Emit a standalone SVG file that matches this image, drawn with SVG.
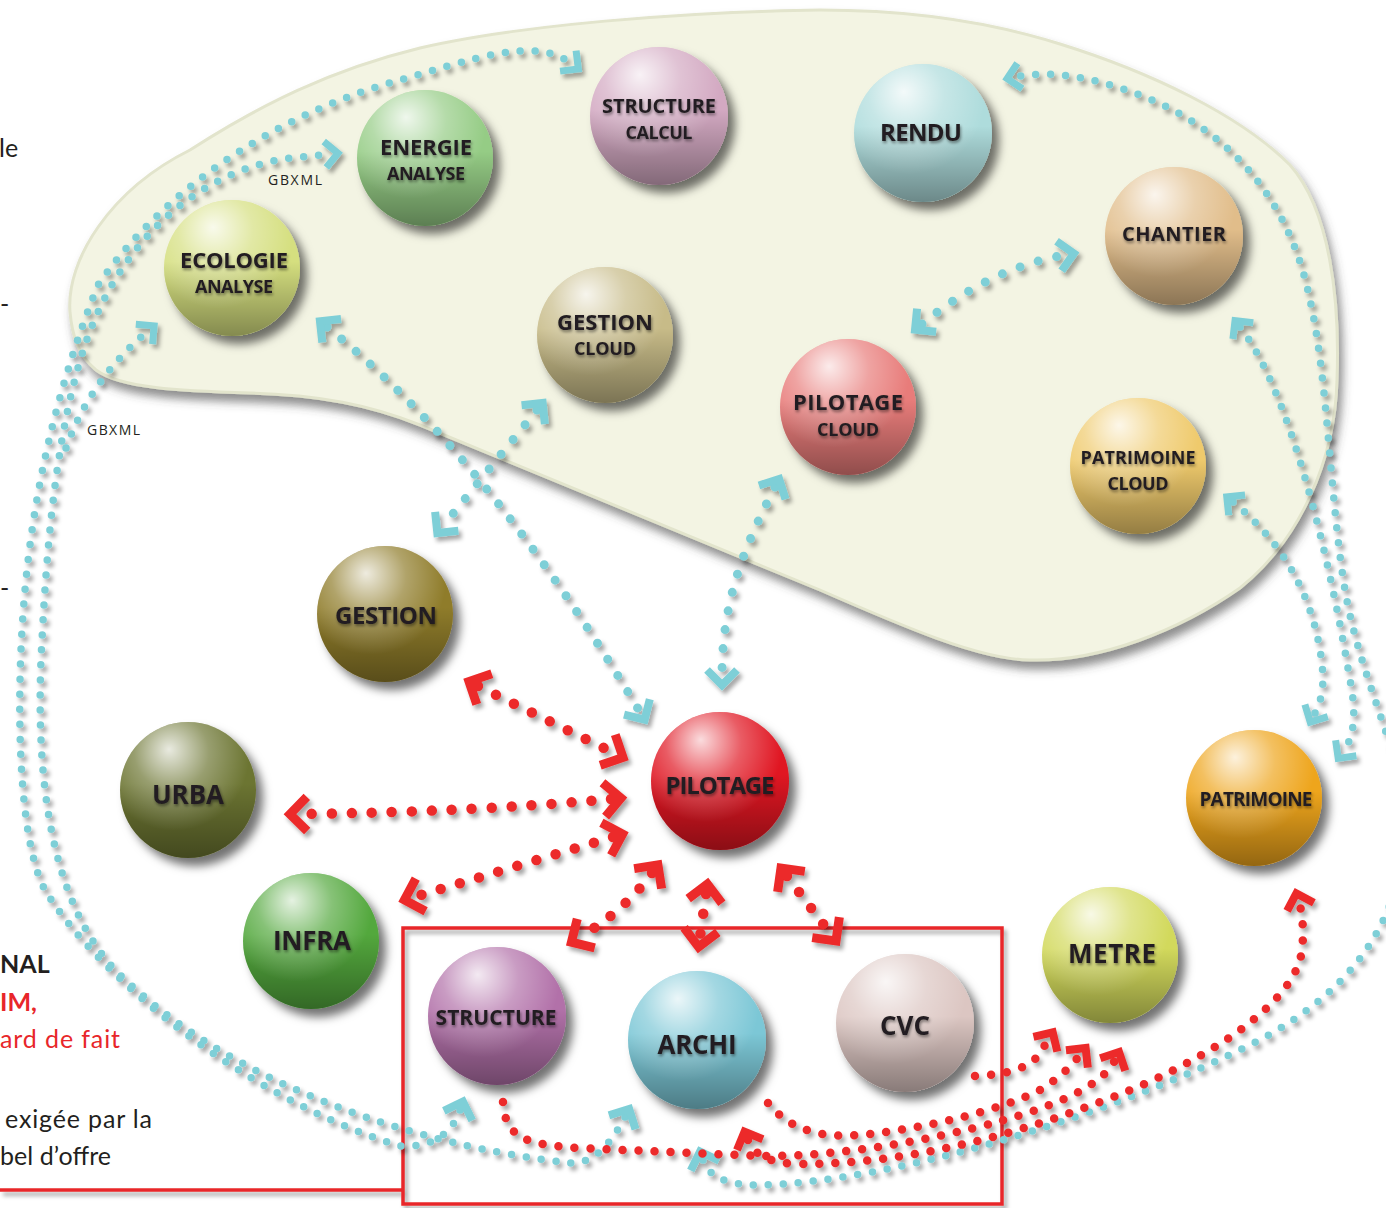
<svg xmlns="http://www.w3.org/2000/svg" width="1386" height="1208" viewBox="0 0 1386 1208">
<defs>
<style>
.lbl{font-family:"Open Sans","Liberation Sans",sans-serif;font-weight:700;fill:#231f20;text-anchor:middle}
.side{font-family:"Lato","Open Sans",sans-serif;font-size:25px;fill:#231f20}
.red{fill:#e8262a}
.bold{font-weight:700}
.gb{font-family:"Open Sans","Liberation Sans",sans-serif;font-size:14px;fill:#231f20}
.cb{fill:none;stroke:#7ecfd7;stroke-width:9;stroke-dasharray:0 19;stroke-linecap:round}
.cs{fill:none;stroke:#7ecfd7;stroke-width:7.5;stroke-dasharray:0 15;stroke-linecap:round}
.rb{fill:none;stroke:#ec2a2a;stroke-width:10.5;stroke-dasharray:0 20;stroke-linecap:round}
.rs{fill:none;stroke:#ec2a2a;stroke-width:8.5;stroke-dasharray:0 16;stroke-linecap:round}
.sph{filter:url(#ssh)}
</style>
<filter id="ssh" x="-30%" y="-30%" width="170%" height="170%"><feDropShadow dx="7" dy="8" stdDeviation="5" flood-color="#000" flood-opacity="0.55"/></filter>
<filter id="bsh" x="-10%" y="-10%" width="120%" height="130%"><feDropShadow dx="4" dy="8" stdDeviation="5" flood-color="#444" flood-opacity="0.6"/></filter>
<filter id="dsh" x="-5%" y="-5%" width="110%" height="110%"><feDropShadow dx="3" dy="4" stdDeviation="2" flood-color="#000" flood-opacity="0.35"/></filter>
<filter id="tsh" x="-20%" y="-40%" width="140%" height="180%"><feDropShadow dx="1" dy="2" stdDeviation="1.5" flood-color="#000" flood-opacity="0.45"/></filter>
<linearGradient id="shade" x1="0" y1="0" x2="0" y2="1"><stop offset="0" stop-color="#000" stop-opacity="0"/><stop offset="0.45" stop-color="#000" stop-opacity="0"/><stop offset="1" stop-color="#000" stop-opacity="0.38"/></linearGradient>
<radialGradient id="hl" cx="0.4" cy="0.25" r="0.55" fx="0.36" fy="0.2"><stop offset="0" stop-color="#fff" stop-opacity="0.85"/><stop offset="0.5" stop-color="#fff" stop-opacity="0.3"/><stop offset="1" stop-color="#fff" stop-opacity="0"/></radialGradient>
<marker id="mcb" markerUnits="userSpaceOnUse" markerWidth="60" markerHeight="60" viewBox="-30 -30 60 60" refX="0" refY="0" orient="auto-start-reverse"><path d="M-6,-15 L9,0 L-6,15" fill="none" stroke="#7ecfd7" stroke-width="8"/></marker>
<marker id="mcs" markerUnits="userSpaceOnUse" markerWidth="60" markerHeight="60" viewBox="-30 -30 60 60" refX="0" refY="0" orient="auto-start-reverse"><path d="M-5,-13 L8,0 L-5,13" fill="none" stroke="#7ecfd7" stroke-width="7"/></marker>
<marker id="mrb" markerUnits="userSpaceOnUse" markerWidth="60" markerHeight="60" viewBox="-30 -30 60 60" refX="0" refY="0" orient="auto-start-reverse"><path d="M-7,-17 L10,0 L-7,17" fill="none" stroke="#ec2a2a" stroke-width="9"/></marker>
<marker id="mrs" markerUnits="userSpaceOnUse" markerWidth="60" markerHeight="60" viewBox="-30 -30 60 60" refX="0" refY="0" orient="auto-start-reverse"><path d="M-5,-14 L9,0 L-5,14" fill="none" stroke="#ec2a2a" stroke-width="8"/></marker>
</defs>
<rect width="1386" height="1208" fill="#fff"/>

<g id="blob">
<path d="M70,312 C66,260 110,190 190,150 C260,105 330,70 420,48 C520,25 680,12 820,10 C920,10 1000,25 1060,44 C1150,72 1240,115 1290,165 C1330,210 1340,300 1337,380 C1335,460 1300,540 1240,588 C1180,630 1100,662 1030,660 C980,660 900,625 820,590 L420,425 C370,405 320,395 250,393 C180,391 120,388 96,370 C78,355 72,335 70,312 Z" fill="#f3f4e3" stroke="#e2e4cc" stroke-width="3" filter="url(#bsh)"/>
</g>

<g id="side-text">
<text class="side" x="-1" y="157">le</text>
<text class="side" x="0" y="313" font-size="16">-</text>
<text class="side" x="0" y="597" font-size="16">-</text>
<text class="side bold" x="0" y="973">NAL</text>
<text class="side bold red" x="0" y="1011">IM,</text>
<text class="side red" x="0" y="1048" textLength="120">ard de fait</text>
<text class="side" x="5" y="1128" textLength="147">exigée par la</text>
<text class="side" x="0" y="1165" textLength="111">bel d’offre</text>
<text class="gb" x="268" y="185" textLength="54">GBXML</text>
<text class="gb" x="87" y="435" textLength="53">GBXML</text>
</g>

<g id="frame" filter="url(#dsh)">
<rect x="403" y="928" width="599" height="276" fill="none" stroke="#e8262a" stroke-width="3.5"/>
<line x1="0" y1="1190" x2="403" y2="1190" stroke="#e8262a" stroke-width="3.5"/>
</g>

<g id="n-structure-calcul"><circle class="sph" cx="659" cy="116" r="69" fill="#d3a9c2"/><circle cx="659" cy="116" r="69" fill="url(#shade)"/><circle cx="659" cy="116" r="69" fill="url(#hl)"/><text class="lbl" filter="url(#tsh)" x="659" y="113" font-size="20" textLength="114">STRUCTURE</text><text class="lbl" filter="url(#tsh)" x="659" y="139" font-size="18" textLength="67">CALCUL</text></g>
<g id="n-rendu"><circle class="sph" cx="923" cy="133" r="69" fill="#aedcdc"/><circle cx="923" cy="133" r="69" fill="url(#shade)"/><circle cx="923" cy="133" r="69" fill="url(#hl)"/><text class="lbl" filter="url(#tsh)" x="921" y="141" font-size="24" textLength="82">RENDU</text></g>
<g id="n-energie"><circle class="sph" cx="425" cy="158" r="68" fill="#95cc85"/><circle cx="425" cy="158" r="68" fill="url(#shade)"/><circle cx="425" cy="158" r="68" fill="url(#hl)"/><text class="lbl" filter="url(#tsh)" x="426" y="155" font-size="22" textLength="92">ENERGIE</text><text class="lbl" filter="url(#tsh)" x="426" y="180" font-size="18" textLength="78">ANALYSE</text></g>
<g id="n-ecologie"><circle class="sph" cx="232" cy="268" r="68" fill="#d5df7f"/><circle cx="232" cy="268" r="68" fill="url(#shade)"/><circle cx="232" cy="268" r="68" fill="url(#hl)"/><text class="lbl" filter="url(#tsh)" x="234" y="268" font-size="22" textLength="108">ECOLOGIE</text><text class="lbl" filter="url(#tsh)" x="234" y="293" font-size="18" textLength="78">ANALYSE</text></g>
<g id="n-gestion-cloud"><circle class="sph" cx="605" cy="335" r="68" fill="#c7bb88"/><circle cx="605" cy="335" r="68" fill="url(#shade)"/><circle cx="605" cy="335" r="68" fill="url(#hl)"/><text class="lbl" filter="url(#tsh)" x="605" y="330" font-size="22" textLength="96">GESTION</text><text class="lbl" filter="url(#tsh)" x="605" y="355" font-size="18" textLength="62">CLOUD</text></g>
<g id="n-pilotage-cloud"><circle class="sph" cx="848" cy="407" r="68" fill="#e87c7a"/><circle cx="848" cy="407" r="68" fill="url(#shade)"/><circle cx="848" cy="407" r="68" fill="url(#hl)"/><text class="lbl" filter="url(#tsh)" x="848" y="410" font-size="22" textLength="110">PILOTAGE</text><text class="lbl" filter="url(#tsh)" x="848" y="436" font-size="18" textLength="62">CLOUD</text></g>
<g id="n-chantier"><circle class="sph" cx="1174" cy="236" r="69" fill="#e1bd8a"/><circle cx="1174" cy="236" r="69" fill="url(#shade)"/><circle cx="1174" cy="236" r="69" fill="url(#hl)"/><text class="lbl" filter="url(#tsh)" x="1174" y="241" font-size="20" textLength="104">CHANTIER</text></g>
<g id="n-patrimoine-cloud"><circle class="sph" cx="1138" cy="466" r="68" fill="#efca6c"/><circle cx="1138" cy="466" r="68" fill="url(#shade)"/><circle cx="1138" cy="466" r="68" fill="url(#hl)"/><text class="lbl" filter="url(#tsh)" x="1138" y="464" font-size="18" textLength="115">PATRIMOINE</text><text class="lbl" filter="url(#tsh)" x="1138" y="490" font-size="18" font-weight="600" textLength="61">CLOUD</text></g>
<g id="n-gestion"><circle class="sph" cx="385" cy="614" r="68" fill="#8f7b2a"/><circle cx="385" cy="614" r="68" fill="url(#shade)"/><circle cx="385" cy="614" r="68" fill="url(#hl)"/><text class="lbl" filter="url(#tsh)" x="386" y="624" font-size="24" textLength="102">GESTION</text></g>
<g id="n-pilotage"><circle class="sph" cx="720" cy="781" r="69" fill="#e01420"/><circle cx="720" cy="781" r="69" fill="url(#shade)"/><circle cx="720" cy="781" r="69" fill="url(#hl)"/><text class="lbl" filter="url(#tsh)" x="720" y="794" font-size="24" textLength="109">PILOTAGE</text></g>
<g id="n-urba"><circle class="sph" cx="188" cy="790" r="68" fill="#6c7532"/><circle cx="188" cy="790" r="68" fill="url(#shade)"/><circle cx="188" cy="790" r="68" fill="url(#hl)"/><text class="lbl" filter="url(#tsh)" x="188" y="804" font-size="26" textLength="72">URBA</text></g>
<g id="n-infra"><circle class="sph" cx="311" cy="941" r="68" fill="#52a83d"/><circle cx="311" cy="941" r="68" fill="url(#shade)"/><circle cx="311" cy="941" r="68" fill="url(#hl)"/><text class="lbl" filter="url(#tsh)" x="312" y="950" font-size="26" textLength="78">INFRA</text></g>
<g id="n-structure"><circle class="sph" cx="497" cy="1016" r="69" fill="#b271a9"/><circle cx="497" cy="1016" r="69" fill="url(#shade)"/><circle cx="497" cy="1016" r="69" fill="url(#hl)"/><text class="lbl" filter="url(#tsh)" x="496" y="1025" font-size="21" textLength="121">STRUCTURE</text></g>
<g id="n-archi"><circle class="sph" cx="697" cy="1040" r="69" fill="#7cc7d6"/><circle cx="697" cy="1040" r="69" fill="url(#shade)"/><circle cx="697" cy="1040" r="69" fill="url(#hl)"/><text class="lbl" filter="url(#tsh)" x="697" y="1054" font-size="26" textLength="79">ARCHI</text></g>
<g id="n-cvc"><circle class="sph" cx="905" cy="1023" r="69" fill="#dcc6c2"/><circle cx="905" cy="1023" r="69" fill="url(#shade)"/><circle cx="905" cy="1023" r="69" fill="url(#hl)"/><text class="lbl" filter="url(#tsh)" x="905" y="1035" font-size="26" textLength="50">CVC</text></g>
<g id="n-metre"><circle class="sph" cx="1110" cy="955" r="68" fill="#d2d95c"/><circle cx="1110" cy="955" r="68" fill="url(#shade)"/><circle cx="1110" cy="955" r="68" fill="url(#hl)"/><text class="lbl" filter="url(#tsh)" x="1112" y="963" font-size="26" textLength="88">METRE</text></g>
<g id="n-patrimoine"><circle class="sph" cx="1254" cy="798" r="68" fill="#eea51d"/><circle cx="1254" cy="798" r="68" fill="url(#shade)"/><circle cx="1254" cy="798" r="68" fill="url(#hl)"/><text class="lbl" filter="url(#tsh)" x="1256" y="806" font-size="19" textLength="113">PATRIMOINE</text></g>

<g id="connectors" filter="url(#dsh)">
<path class="cs" marker-start="url(#mcb)" marker-end="url(#mcs)" d="M460,1110 Q447,1148 400,1146 C250,1100 100,980 45,890 C18,840 15,700 25,590 C35,480 60,380 98,285 C170,180 290,110 400,80 C470,60 535,35 572,64"/>
<path class="cs" marker-start="url(#mcb)" marker-end="url(#mcs)" d="M625,1117 Q600,1165 570,1163 C450,1150 250,1100 120,975 C45,900 35,760 42,640 C48,520 60,420 85,345 C120,240 200,170 290,158 L330,154"/>
<path class="cs" marker-end="url(#mcs)" d="M66,448 Q90,380 148,331"/>
<path class="cb" marker-start="url(#mcb)" marker-end="url(#mcb)" d="M327,327 Q487,455 640,712"/>
<path class="cb" marker-start="url(#mcb)" marker-end="url(#mcb)" d="M537,410 L443,526"/>
<path class="cb" marker-start="url(#mcb)" marker-end="url(#mcb)" d="M775,487 C745,545 722,600 722,676"/>
<path class="cb" marker-start="url(#mcb)" marker-end="url(#mcb)" d="M922,324 Q990,268 1065,255"/>
<path class="cs" marker-start="url(#mcb)" marker-end="url(#mcs)" d="M703,1160 Q712,1186 760,1185 C900,1182 1120,1110 1250,1045 C1370,985 1405,900 1405,820 C1405,760 1360,680 1345,590 C1330,500 1328,380 1310,300 C1290,200 1230,130 1140,95 C1090,76 1050,70 1015,77"/>
<path class="cs" marker-start="url(#mcs)" marker-end="url(#mcs)" d="M1240,327 C1290,390 1330,560 1350,680 C1358,720 1352,740 1343,752"/>
<path class="cs" marker-start="url(#mcs)" marker-end="url(#mcs)" d="M1233,502 C1280,540 1310,590 1320,650 C1326,685 1322,700 1314,715"/>

<path class="rb" marker-start="url(#mrb)" marker-end="url(#mrb)" d="M478,686 L614,753"/>
<path class="rb" marker-start="url(#mrb)" marker-end="url(#mrb)" d="M611,799 Q470,812 300,814"/>
<path class="rb" marker-start="url(#mrb)" marker-end="url(#mrb)" d="M613,837 L414,897"/>
<path class="rb" marker-start="url(#mrb)" marker-end="url(#mrb)" d="M652,873 Q625,910 580,937"/>
<path class="rb" marker-start="url(#mrb)" marker-end="url(#mrb)" d="M706,894 L700,937"/>
<path class="rb" marker-start="url(#mrb)" marker-end="url(#mrb)" d="M787,876 L830,933"/>

<path class="rs" marker-end="url(#mrs)" d="M503,1102 C505,1140 530,1145 580,1148 L760,1156 C850,1157 960,1135 1030,1112 C1075,1097 1105,1080 1115,1060"/>
<path class="rs" marker-start="url(#mrs)" marker-end="url(#mrs)" d="M748,1140 Q758,1164 800,1164 C900,1164 1000,1140 1100,1102 C1200,1065 1285,1010 1300,960 C1305,940 1303,915 1299,902"/>
<path class="rs" marker-end="url(#mrs)" d="M768,1103 C790,1130 820,1138 860,1135 C930,1128 1000,1110 1040,1090 C1060,1078 1072,1065 1080,1055"/>
<path class="rs" marker-end="url(#mrs)" d="M975,1076 C1010,1074 1030,1068 1040,1053 L1048,1040"/>
</g>
</svg>
